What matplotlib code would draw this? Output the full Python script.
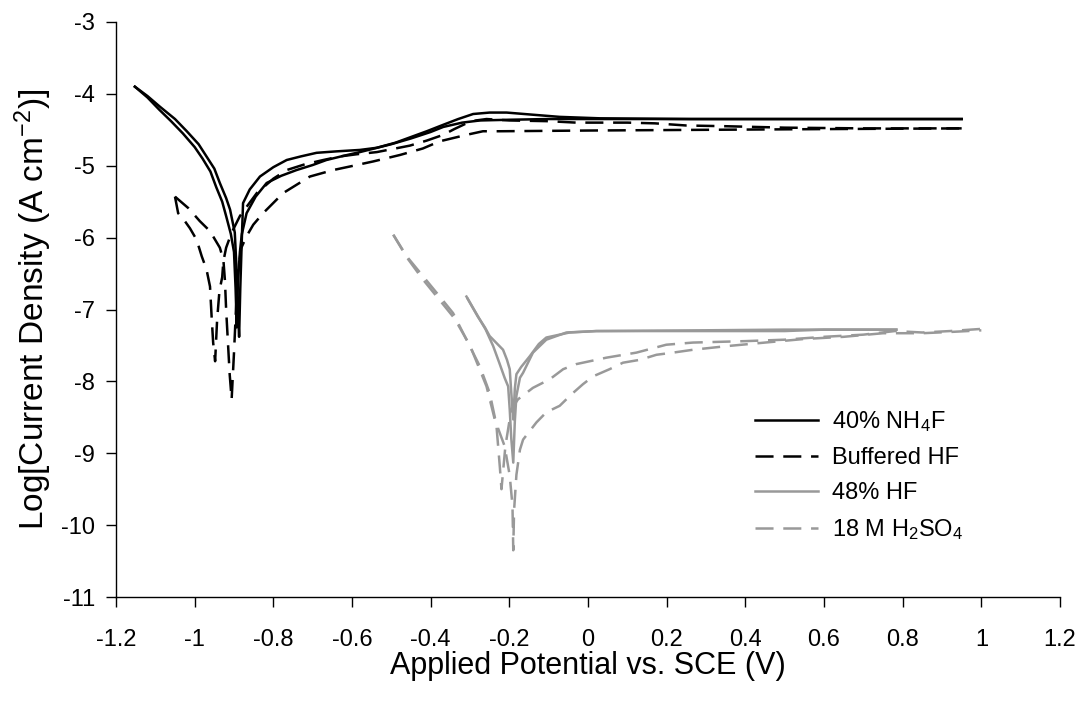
import matplotlib
matplotlib.use("Agg")
import matplotlib.pyplot as plt

# ---------------- data ----------------
# 40% NH4F (solid black) - two scans
nh4f_x1 = [-1.152, -1.12, -1.088, -1.05, -1.02, -0.99, -0.97, -0.95, -0.936, -0.92, -0.91, -0.898,
           -0.893, -0.890, -0.887, -0.884, -0.880, -0.877, -0.86, -0.834, -0.80, -0.766, -0.73, -0.69,
           -0.64, -0.58, -0.537, -0.49, -0.45, -0.41, -0.368, -0.33, -0.292, -0.25, -0.207, -0.14,
           -0.072, 0.03, 0.26, 0.5, 0.75, 0.95]
nh4f_y1 = [-3.90, -4.03, -4.18, -4.35, -4.52, -4.70, -4.87, -5.04, -5.24, -5.45, -5.61, -5.93,
           -6.50, -7.00, -7.38, -6.70, -6.00, -5.52, -5.33, -5.15, -5.02, -4.92, -4.87, -4.82,
           -4.80, -4.78, -4.75, -4.68, -4.60, -4.52, -4.43, -4.35, -4.28, -4.26, -4.26, -4.29,
           -4.32, -4.34, -4.35, -4.35, -4.35, -4.35]
nh4f_x2 = [-1.152, -1.12, -1.09, -1.06, -1.03, -1.0, -0.98, -0.96, -0.945, -0.93, -0.92, -0.908,
           -0.90, -0.896, -0.893, -0.890, -0.885, -0.880, -0.868, -0.845, -0.817, -0.78, -0.741,
           -0.70, -0.665, -0.62, -0.58, -0.50, -0.45, -0.40, -0.368, -0.32, -0.275, -0.20,
           -0.10, 0.03, 0.3, 0.6, 0.95]
nh4f_y2 = [-3.90, -4.05, -4.22, -4.38, -4.55, -4.74, -4.90, -5.08, -5.30, -5.50, -5.70, -5.95,
           -6.20, -6.70, -7.25, -6.60, -6.20, -5.95, -5.66, -5.43, -5.24, -5.14, -5.06,
           -4.99, -4.92, -4.86, -4.81, -4.70, -4.62, -4.53, -4.46, -4.40, -4.37, -4.36,
           -4.35, -4.35, -4.35, -4.35, -4.35]

# Buffered HF (dashed black) - two scans
bhf_x1 = [-1.05, -1.042, -1.025, -1.012, -0.995, -0.982, -0.970, -0.961, -0.957, -0.953, -0.948,
          -0.943, -0.937, -0.930, -0.927, -0.920, -0.906, -0.885, -0.865, -0.842, -0.80, -0.766,
          -0.72, -0.673, -0.63, -0.588, -0.537, -0.49, -0.453, -0.41, -0.368, -0.34, -0.309,
          -0.285, -0.258, -0.20, -0.10, -0.03, 0.10, 0.17, 0.25, 0.35, 0.50, 0.70, 0.95]
bhf_y1 = [-5.43, -5.66, -5.77, -5.87, -6.03, -6.26, -6.44, -6.68, -7.09, -7.46, -7.72,
          -7.15, -6.74, -6.55, -6.33, -6.14, -5.93, -5.70, -5.55, -5.38, -5.18, -5.06,
          -4.98, -4.92, -4.87, -4.84, -4.81, -4.76, -4.72, -4.65, -4.57, -4.49, -4.41,
          -4.37, -4.35, -4.37, -4.38, -4.40, -4.40, -4.41, -4.44, -4.45, -4.47, -4.48, -4.48]
bhf_x2 = [-1.05, -1.016, -0.987, -0.961, -0.936, -0.927, -0.923, -0.920, -0.915, -0.911, -0.906,
          -0.900, -0.895, -0.890, -0.882, -0.868, -0.851, -0.826, -0.775, -0.707, -0.648, -0.605,
          -0.546, -0.478, -0.42, -0.377, -0.309, -0.267, -0.224, 0.0, 0.3, 0.6, 0.95]
bhf_y2 = [-5.43, -5.59, -5.77, -5.91, -6.14, -6.31, -6.60, -7.00, -7.50, -7.90, -8.25,
          -7.60, -7.00, -6.50, -6.15, -5.98, -5.82, -5.66, -5.38, -5.15, -5.06, -5.01,
          -4.94, -4.85, -4.76, -4.66, -4.57, -4.52, -4.52, -4.51, -4.50, -4.49, -4.48]

# 48% HF (solid gray) - two scans
hf_x1 = [-0.309, -0.29, -0.275, -0.26, -0.241, -0.225, -0.212, -0.203, -0.199, -0.195, -0.190,
         -0.186, -0.182, -0.173, -0.165, -0.14, -0.106, -0.055, 0.021, 0.284, 0.5, 0.784]
hf_y1 = [-6.82, -7.00, -7.14, -7.28, -7.51, -7.75, -7.95, -8.07, -8.39, -8.80, -9.13,
         -8.55, -8.20, -7.95, -7.88, -7.60, -7.42, -7.32, -7.30, -7.29, -7.28, -7.28]
hf_x2 = [-0.306, -0.28, -0.262, -0.25, -0.216, -0.206, -0.199, -0.195, -0.190, -0.186, -0.182,
         -0.17, -0.148, -0.125, -0.106, -0.047, 0.021, 0.284, 0.5, 0.6, 0.784]
hf_y2 = [-6.85, -7.10, -7.25, -7.37, -7.56, -7.70, -7.83, -8.16, -8.53, -8.10, -7.90,
         -7.80, -7.65, -7.48, -7.39, -7.32, -7.30, -7.30, -7.30, -7.28, -7.28]

# 18 M H2SO4 (dashed gray) - two scans
h2so4_x1 = [-0.495, -0.461, -0.419, -0.377, -0.343, -0.309, -0.275, -0.25, -0.233, -0.224, -0.22,
            -0.21, -0.195, -0.178, -0.14, -0.097, -0.063, -0.03, 0.047, 0.123, 0.199, 0.267,
            0.4, 0.5, 0.6, 0.7, 0.78, 0.85, 0.92, 1.0]
h2so4_y1 = [-5.96, -6.26, -6.54, -6.82, -7.05, -7.42, -7.79, -8.16, -8.60, -9.20, -9.50,
            -8.90, -8.39, -8.25, -8.09, -7.97, -7.83, -7.76, -7.67, -7.60, -7.49, -7.46,
            -7.44, -7.42, -7.38, -7.35, -7.30, -7.32, -7.30, -7.27]
h2so4_x2 = [-0.495, -0.46, -0.42, -0.38, -0.34, -0.30, -0.258, -0.237, -0.212, -0.199, -0.192,
            -0.190, -0.188, -0.182, -0.173, -0.165, -0.131, -0.106, -0.072, -0.042, -0.013,
            0.013, 0.055, 0.089, 0.132, 0.174, 0.216, 0.267, 0.352, 0.45, 0.55, 0.65, 0.75,
            0.85, 0.93, 1.0]
h2so4_y2 = [-5.96, -6.28, -6.58, -6.85, -7.12, -7.50, -8.07, -8.53, -8.90, -9.31, -9.73,
            -10.35, -9.80, -9.30, -8.95, -8.81, -8.57, -8.43, -8.34, -8.18, -8.04,
            -7.93, -7.83, -7.74, -7.70, -7.63, -7.60, -7.56, -7.51, -7.46, -7.41, -7.38, -7.33,
            -7.33, -7.31, -7.29]

series_labels = ["40% NH$_4$F", "Buffered HF", "48% HF", "18 M H$_2$SO$_4$"]
x_ticks = [-1.2, -1.0, -0.8, -0.6, -0.4, -0.2, 0.0, 0.2, 0.4, 0.6, 0.8, 1.0, 1.2]
x_tick_labels = ["-1.2", "-1", "-0.8", "-0.6", "-0.4", "-0.2", "0", "0.2", "0.4", "0.6", "0.8", "1", "1.2"]
y_ticks = [-11, -10, -9, -8, -7, -6, -5, -4, -3]
y_tick_labels = ["-11", "-10", "-9", "-8", "-7", "-6", "-5", "-4", "-3"]

# ---------------- styling ----------------
plt.rcParams['font.family'] = ['Liberation Sans', 'DejaVu Sans']
plt.rcParams['mathtext.fontset'] = 'custom'
plt.rcParams['mathtext.rm'] = 'Liberation Sans'
plt.rcParams['mathtext.it'] = 'Liberation Sans'
plt.rcParams['mathtext.default'] = 'regular'
plt.rcParams['lines.scale_dashes'] = False

W, H = 1086, 715
fig = plt.figure(figsize=(W / 100, H / 100), dpi=100)
ax_l, ax_r, ax_t, ax_b = 116, 1060, 22, 597
ax = fig.add_axes([ax_l / W, 1 - ax_b / H, (ax_r - ax_l) / W, (ax_b - ax_t) / H])

black = '#000000'
gray = '#999999'
lw = 1.8
dash = (13, 7)

ax.plot(nh4f_x1, nh4f_y1, color=black, lw=lw, label=series_labels[0])
ax.plot(nh4f_x2, nh4f_y2, color=black, lw=lw, label='_nolegend_')
ax.plot(bhf_x1, bhf_y1, color=black, lw=lw, dashes=dash, label=series_labels[1])
ax.plot(bhf_x2, bhf_y2, color=black, lw=lw, dashes=dash, label='_nolegend_')
ax.plot(hf_x1, hf_y1, color=gray, lw=lw, label=series_labels[2])
ax.plot(hf_x2, hf_y2, color=gray, lw=lw, label='_nolegend_')
ax.plot(h2so4_x1, h2so4_y1, color=gray, lw=lw, dashes=dash, label=series_labels[3])
ax.plot(h2so4_x2, h2so4_y2, color=gray, lw=lw, dashes=dash, label='_nolegend_')

ax.set_xlim(-1.2, 1.2)
ax.set_ylim(-11, -3)
ax.set_xticks(x_ticks)
ax.set_xticklabels(x_tick_labels)
ax.set_yticks(y_ticks)
ax.set_yticklabels(y_tick_labels)

for s in ['top', 'right']:
    ax.spines[s].set_visible(False)
for s in ['left', 'bottom']:
    ax.spines[s].set_color('#000000')
    ax.spines[s].set_linewidth(1.0)

ax.tick_params(axis='both', direction='out', length=7, width=1.0, color='#000000',
               labelsize=17, labelcolor='#000000')
ax.tick_params(axis='x', pad=16)
ax.tick_params(axis='y', pad=8)

ax.set_xlabel("Applied Potential vs. SCE (V)", fontsize=22)
ax.set_ylabel("Log[Current Density (A cm$^{-2}$)]", fontsize=24)
ax.xaxis.set_label_coords(0.5, (ax_b - 666) / (ax_b - ax_t))
ax.xaxis.label.set_va('center')
ax.yaxis.set_label_coords((33 - ax_l) / (ax_r - ax_l), 0.5)
ax.yaxis.label.set_va('center')
ax.yaxis.label.set_ha('center')

leg = ax.legend(loc='upper left',
                bbox_to_anchor=((755 - ax_l) / (ax_r - ax_l), (ax_b - 409) / (ax_b - ax_t)),
                frameon=False, fontsize=17, handlelength=2.65, handletextpad=0.62,
                labelspacing=0.55, borderpad=0, borderaxespad=0)

fig.savefig("out.png", dpi=100)
